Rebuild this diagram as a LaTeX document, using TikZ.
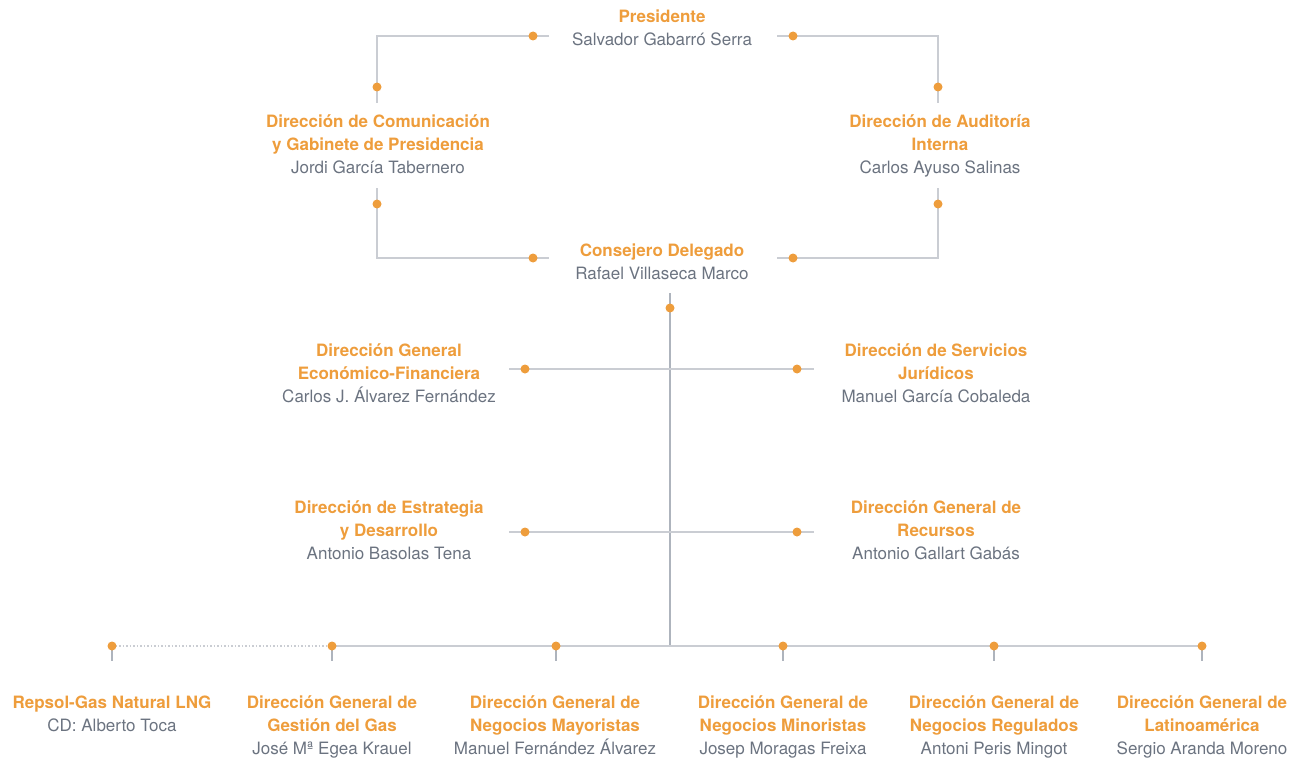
\documentclass[tikz,border=0pt]{standalone}
\usepackage{fontspec}
\setmainfont{TeX Gyre Heros}
\definecolor{org}{HTML}{EE9D3C}
\definecolor{txt}{HTML}{6B7380}
\definecolor{ln}{HTML}{CACDD3}
\definecolor{spine}{HTML}{AEB4BD}
\newcommand{\lnstrut}{\rule[-5pt]{0pt}{18pt}}
\newcommand{\hd}[1]{\lnstrut\textcolor{org}{\bfseries #1}}
\newcommand{\nm}[1]{\lnstrut#1}
\tikzset{
  box/.style={align=center, inner sep=0pt, anchor=center, yshift=-2.5pt, font=\fontsize{17}{23}\selectfont, text=txt},
  dot/.style={circle, fill=org, inner sep=0pt, minimum size=9pt},
  conn/.style={draw=ln, line width=1.5pt},
  spineline/.style={draw=spine, line width=1.2pt},
  tick/.style={draw=spine, line width=1.2pt},
}
\begin{document}
\begin{tikzpicture}[x=1pt,y=-1pt]
\useasboundingbox (0,0) rectangle (1302,760);
% text nodes
\node[box] (pres) at (662,27.5) {\hd{Presidente}\\\nm{Salvador Gabarró Serra}};
\node[box] (com) at (378,144) {\hd{Dirección de Comunicación}\\\hd{y Gabinete de Presidencia}\\\nm{Jordi García Tabernero}};
\node[box] (aud) at (940,144) {\hd{Dirección de Auditoría}\\\hd{Interna}\\\nm{Carlos Ayuso Salinas}};
\node[box] (cd) at (662,261) {\hd{Consejero Delegado}\\\nm{Rafael Villaseca Marco}};
\node[box] (egf) at (389,373) {\hd{Dirección General}\\\hd{Económico-Financiera}\\\nm{Carlos J. Álvarez Fernández}};
\node[box] (sj) at (936,373) {\hd{Dirección de Servicios}\\\hd{Jurídicos}\\\nm{Manuel García Cobaleda}};
\node[box] (est) at (389,530) {\hd{Dirección de Estrategia}\\\hd{y Desarrollo}\\\nm{Antonio Basolas Tena}};
\node[box] (rec) at (936,530) {\hd{Dirección General de}\\\hd{Recursos}\\\nm{Antonio Gallart Gabás}};
\node[box] (lng) at (112,713.5) {\hd{Repsol-Gas Natural LNG}\\\nm{CD: Alberto Toca}};
\node[box] (gas) at (332,725) {\hd{Dirección General de}\\\hd{Gestión del Gas}\\\nm{José Mª Egea Krauel}};
\node[box] (may) at (555,725) {\hd{Dirección General de}\\\hd{Negocios Mayoristas}\\\nm{Manuel Fernández Álvarez}};
\node[box] (min) at (783,725) {\hd{Dirección General de}\\\hd{Negocios Minoristas}\\\nm{Josep Moragas Freixa}};
\node[box] (reg) at (994,725) {\hd{Dirección General de}\\\hd{Negocios Regulados}\\\nm{Antoni Peris Mingot}};
\node[box] (lat) at (1202,725) {\hd{Dirección General de}\\\hd{Latinoamérica}\\\nm{Sergio Aranda Moreno}};
% connector coordinates
\coordinate (pA) at (549,36);  \coordinate (pB) at (377,36);  \coordinate (pC) at (377,103);
\coordinate (pD) at (777,36);  \coordinate (pE) at (938,36);  \coordinate (pF) at (938,103);
\coordinate (qA) at (377,188); \coordinate (qB) at (377,258); \coordinate (qC) at (549,258);
\coordinate (qD) at (938,188); \coordinate (qE) at (938,258); \coordinate (qF) at (777,258);
\coordinate (sTop) at (670,293); \coordinate (sBot) at (670,646);
\coordinate (r1L) at (509,369); \coordinate (r1R) at (814,369);
\coordinate (r2L) at (509,532); \coordinate (r2R) at (814,532);
\coordinate (bL) at (112,646); \coordinate (bG) at (332,646); \coordinate (bR) at (1202,646);
% lines
\draw[conn] (pA) -- (pB) -- (pC);
\draw[conn] (pD) -- (pE) -- (pF);
\draw[conn] (qA) -- (qB) -- (qC);
\draw[conn] (qD) -- (qE) -- (qF);
\draw[spineline] (sTop) -- (sBot);
\draw[conn] (r1L) -- (r1R);
\draw[conn] (r2L) -- (r2R);
\draw[conn, dotted] (bL) -- (bG);
\draw[conn] (bG) -- (bR);
\foreach \x/\n in {112/tl,332/tg,556/tm,783/tn,994/tr,1202/ta}{
  \coordinate (\n1) at (\x,646); \coordinate (\n2) at (\x,661);
  \draw[tick] (\n1) -- (\n2);
}
% dots
\node[dot] (d1) at (533,36) {};
\node[dot] (d2) at (793,36) {};
\node[dot] (d3) at (377,87) {};
\node[dot] (d4) at (938,87) {};
\node[dot] (d5) at (377,204) {};
\node[dot] (d6) at (938,204) {};
\node[dot] (d7) at (533,258) {};
\node[dot] (d8) at (793,258) {};
\node[dot] (d9) at (670,308) {};
\node[dot] (d10) at (525,369) {};
\node[dot] (d11) at (797,369) {};
\node[dot] (d12) at (525,532) {};
\node[dot] (d13) at (797,532) {};
\node[dot] (e1) at (112,646) {};
\node[dot] (e2) at (332,646) {};
\node[dot] (e3) at (556,646) {};
\node[dot] (e4) at (783,646) {};
\node[dot] (e5) at (994,646) {};
\node[dot] (e6) at (1202,646) {};
\end{tikzpicture}
\end{document}
